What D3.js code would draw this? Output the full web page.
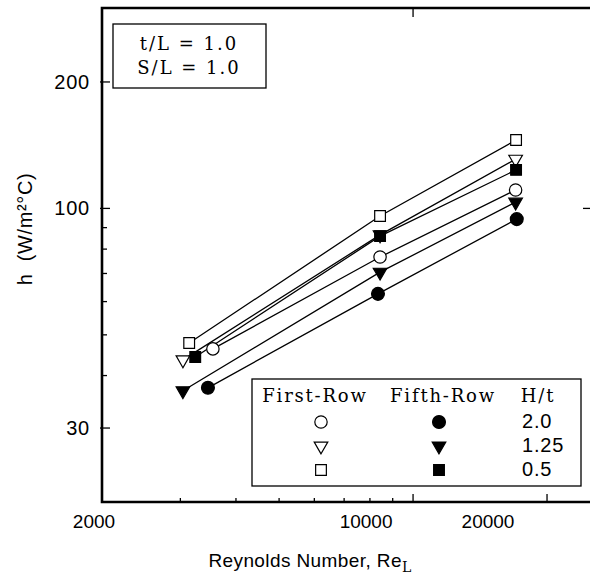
<!DOCTYPE html>
<html>
<head>
<meta charset="utf-8">
<script src="https://cdn.jsdelivr.net/npm/d3@7"></script>
<style>
  body { margin: 0; background: #fff; }
  svg { display: block; }
</style>
</head>
<body>
<div id="chart"></div>
<script>
// [Reynolds number, h]
const first20 = [[3550, 46.3], [8430, 76.6], [17000, 110.6]];
const first125 = [[3040, 43.6], [8430, 86.5], [17000, 131]];
const first05 = [[3140, 47.8], [8430, 95.9], [17040, 145.5]];
const fifth20 = [[3460, 37.4], [8340, 62.6], [17100, 94.3]];
const fifth125 = [[3040, 36.8], [8430, 70.5], [17000, 103.5]];
const fifth05 = [[3240, 44.3], [8430, 85.9], [17040, 123.5]];

const xTicks = [2000, 10000, 20000];
const xTickLabels = ["2000", "10000", "20000"];
const xMinor = [3000, 4000, 5000, 6000, 7000, 8000, 9000];
const yTicks = [30, 100, 200];
const yTickLabels = ["30", "100", "200"];
const yMinor = [40, 50, 60, 70, 80, 90];
const ratioLabels = ["2.0", "1.25", "0.5"];

const W = 590, H = 576;
const pLeft = 102, pTop = 8, pBottom = 502, pRight = 592;

const svg = d3.select("#chart").append("svg")
    .attr("width", W).attr("height", H);

const x = d3.scaleLog().domain([2000, 25240]).range([pLeft, pRight]);
const y = d3.scaleLog().domain([20, 300]).range([pBottom, pTop]);

const sans = "'Liberation Sans', Arial, sans-serif";
const serif = "'DejaVu Serif', serif";

// frame (right edge falls just outside the picture)
svg.append("path")
    .attr("d", `M${pRight + 6},${pTop}H${pLeft}V${pBottom}H${pRight + 6}`)
    .attr("fill", "none").attr("stroke", "#000").attr("stroke-width", 2.6);

// ticks
const tk = svg.append("g").attr("stroke", "#000").attr("stroke-width", 1.3);
xTicks.slice(1).forEach(v => {
  tk.append("line").attr("x1", x(v)).attr("x2", x(v)).attr("y1", pBottom).attr("y2", pBottom - 8);
});
xMinor.forEach(v => {
  tk.append("line").attr("x1", x(v)).attr("x2", x(v)).attr("y1", pBottom).attr("y2", pBottom - 4);
});
tk.append("line").attr("x1", x(10000)).attr("x2", x(10000)).attr("y1", pTop).attr("y2", pTop + 9);
yTicks.forEach(v => {
  tk.append("line").attr("x1", pLeft - 2).attr("x2", pLeft + 8).attr("y1", y(v)).attr("y2", y(v));
});
yMinor.forEach(v => {
  tk.append("line").attr("x1", pLeft).attr("x2", pLeft + 5).attr("y1", y(v)).attr("y2", y(v));
});
tk.append("line").attr("x1", pRight).attr("x2", pRight - 9).attr("y1", y(100)).attr("y2", y(100));

// tick labels (the scanned labels sit left of their ticks)
const xShift = [-8, -47, -59];
xTicks.forEach((v, i) => {
  svg.append("text")
      .attr("x", x(v) + xShift[i]).attr("y", 528)
      .attr("text-anchor", "middle")
      .style("font-family", sans).style("font-size", "19px")
      .text(xTickLabels[i]);
});
yTicks.forEach((v, i) => {
  svg.append("text")
      .attr("x", 90).attr("y", y(v) + 7)
      .attr("text-anchor", "end")
      .style("font-family", sans).style("font-size", "20px")
      .style("letter-spacing", "0.8px")
      .text(yTickLabels[i]);
});

// axis titles
const xt = svg.append("text")
    .attr("x", 310).attr("y", 567)
    .attr("text-anchor", "middle")
    .style("font-family", sans).style("font-size", "19px")
    .style("letter-spacing", "0.4px");
xt.append("tspan").text("Reynolds Number, Re");
xt.append("tspan").attr("dy", 5).style("font-family", serif).style("font-size", "14px").text("L");

svg.append("text")
    .attr("transform", "translate(32,229) rotate(-90)")
    .attr("text-anchor", "middle")
    .style("font-family", sans).style("font-size", "20px")
    .style("letter-spacing", "0.6px")
    .style("white-space", "pre")
    .text("h  (W/m²°C)");

// series
const series = [
  {data: first05, shape: d3.symbolSquare, size: 115, filled: false, rot: 0},
  {data: first125, shape: d3.symbolTriangle, size: 80, filled: false, rot: 180},
  {data: first20, shape: d3.symbolCircle, size: 120, filled: false, rot: 0},
  {data: fifth20, shape: d3.symbolCircle, size: 130, filled: true, rot: 0},
  {data: fifth125, shape: d3.symbolTriangle, size: 80, filled: true, rot: 180},
  {data: fifth05, shape: d3.symbolSquare, size: 115, filled: true, rot: 0}
];

const line = d3.line().x(d => x(d[0])).y(d => y(d[1]));

series.forEach(s => {
  svg.append("path")
      .datum(s.data)
      .attr("fill", "none")
      .attr("stroke", "#000")
      .attr("stroke-width", 1.3)
      .attr("d", line);
});

const drawMarker = (g, s, px, py) => {
  g.append("path")
      .attr("d", d3.symbol().type(s.shape).size(s.size)())
      .attr("transform", `translate(${px},${py}) rotate(${s.rot})`)
      .attr("fill", s.filled ? "#000" : "#fff")
      .attr("stroke", "#000")
      .attr("stroke-width", 1.2);
};

series.forEach(s => {
  s.data.forEach(d => drawMarker(svg, s, x(d[0]), y(d[1])));
});

// parameter box
svg.append("rect")
    .attr("x", 113).attr("y", 24).attr("width", 153).attr("height", 64)
    .attr("fill", "#fff").attr("stroke", "#000").attr("stroke-width", 1.3);
["t/L = 1.0", "S/L = 1.0"].forEach((t, i) => {
  svg.append("text")
      .attr("x", 189).attr("y", 50 + i * 24)
      .attr("text-anchor", "middle")
      .style("font-family", serif).style("font-size", "18px")
      .style("letter-spacing", "2px")
      .text(t);
});

// legend
const lg = svg.append("g");
lg.append("rect")
    .attr("x", 252).attr("y", 379).attr("width", 329).attr("height", 107)
    .attr("fill", "#fff").attr("stroke", "#000").attr("stroke-width", 1.3);
[["First-Row", 315], ["Fifth-Row", 443], ["H/t", 538]].forEach(h => {
  lg.append("text")
      .attr("x", h[1]).attr("y", 402)
      .attr("text-anchor", "middle")
      .style("font-family", serif).style("font-size", "18px")
      .style("letter-spacing", "1.8px")
      .text(h[0]);
});
const rowY = [422, 446, 470];
const firstSet = [series[2], series[1], series[0]];
const fifthSet = [series[3], series[4], series[5]];
rowY.forEach((ry, i) => {
  drawMarker(lg, firstSet[i], 321, ry);
  drawMarker(lg, fifthSet[i], 439, ry);
  lg.append("text")
      .attr("x", 522).attr("y", ry + 6)
      .style("font-family", sans).style("font-size", "20px")
      .style("letter-spacing", "0.8px")
      .text(ratioLabels[i]);
});
</script>
</body>
</html>
